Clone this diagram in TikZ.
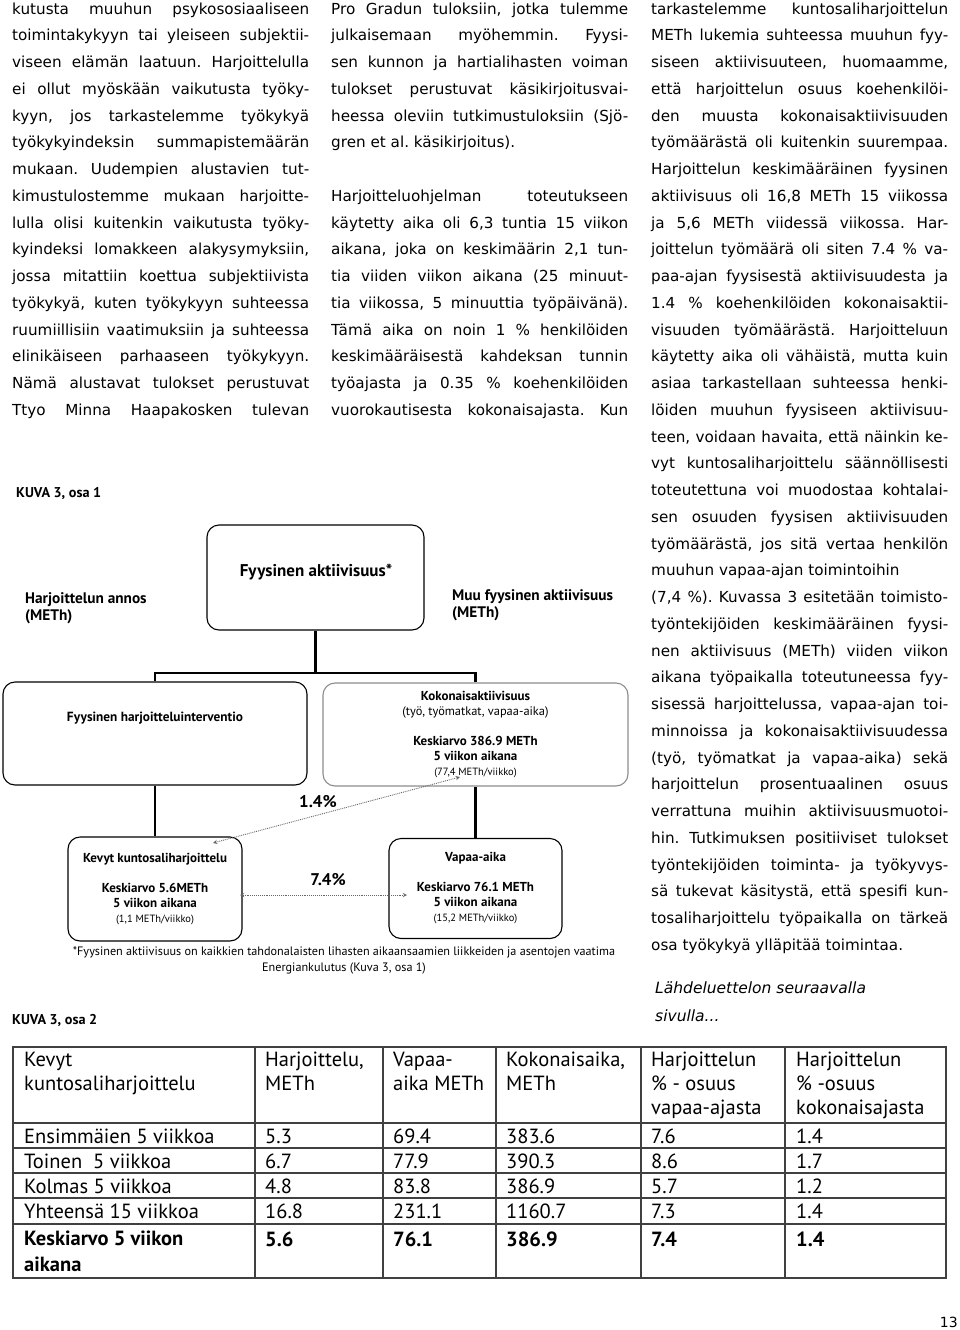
\documentclass[tikz,border=0pt]{standalone}
\usepackage{fontspec}
\setmainfont{DejaVu Sans}
\newfontfamily\figfont{PT Sans}
\usetikzlibrary{calc}

\newlength\colw
\setlength\colw{297pt}
\newcommand\bodyfont{\fontsize{15.2}{26.75}\selectfont\frenchspacing}
% justified line / last line of a paragraph
\newcommand\jl[1]{\hbox to\colw{\spaceskip=0pt\xspaceskip=0pt\strut#1}}
\newcommand\lastl[1]{\hbox to\colw{\spaceskip=0pt\xspaceskip=0pt\strut#1\hfil}}

\begin{document}
\begin{tikzpicture}[x=1pt,y=-1pt,
    txtcol/.style={anchor=north west,inner sep=0pt,text width=\colw,font=\bodyfont},
    roundbox/.style={draw,rounded corners=12pt,line width=1.1pt,inner sep=0pt,align=center,
        font=\figfont\fontsize{12.4}{15}\selectfont},
    figlabel/.style={inner sep=0pt,align=left,font=\figfont\bfseries\fontsize{15.3}{17}\selectfont},
    treeline/.style={line width=2.4pt},
    pctline/.style={densely dotted,line width=0.9pt,black!60,<->,>=stealth},
    cell/.style={anchor=base west,inner sep=0pt,align=left,font=\figfont\fontsize{20.5}{24}\selectfont},
    gridline/.style={line width=1.1pt,black!75}]

\useasboundingbox (0,0) rectangle (960,1330);

% text columns
\node[txtcol] (col1) at (12,-4.7) {%
\jl{kutusta muuhun psykososiaaliseen}
\jl{toimintakykyyn tai yleiseen subjektii-}
\jl{viseen elämän laatuun. Harjoittelulla}
\jl{ei ollut myöskään vaikutusta työky-}
\jl{kyyn, jos tarkastelemme työkykyä}
\jl{työkykyindeksin summapistemäärän}
\jl{mukaan. Uudempien alustavien tut-}
\jl{kimustulostemme mukaan harjoitte-}
\jl{lulla olisi kuitenkin vaikutusta työky-}
\jl{kyindeksi lomakkeen alakysymyksiin,}
\jl{jossa mitattiin koettua subjektiivista}
\jl{työkykyä, kuten työkykyyn suhteessa}
\jl{ruumiillisiin vaatimuksiin ja suhteessa}
\jl{elinikäiseen parhaaseen työkykyyn.}
\jl{Nämä alustavat tulokset perustuvat}
\jl{Ttyo Minna Haapakosken tulevan}};

\node[txtcol] (col2) at (331,-4.7) {%
\jl{Pro Gradun tuloksiin, jotka tulemme}
\jl{julkaisemaan myöhemmin. Fyysi-}
\jl{sen kunnon ja hartialihasten voiman}
\jl{tulokset perustuvat käsikirjoitusvai-}
\jl{heessa oleviin tutkimustuloksiin (Sjö-}
\lastl{gren et al. käsikirjoitus).}
\lastl{}
\jl{Harjoitteluohjelman toteutukseen}
\jl{käytetty aika oli 6,3 tuntia 15 viikon}
\jl{aikana, joka on keskimäärin 2,1 tun-}
\jl{tia viiden viikon aikana (25 minuut-}
\jl{tia viikossa, 5 minuuttia työpäivänä).}
\jl{Tämä aika on noin 1 \% henkilöiden}
\jl{keskimääräisestä kahdeksan tunnin}
\jl{työajasta ja 0.35 \% koehenkilöiden}
\jl{vuorokautisesta kokonaisajasta. Kun}};

\node[txtcol] (col3) at (651,-4.7) {%
\jl{tarkastelemme kuntosaliharjoittelun}
\jl{METh lukemia suhteessa muuhun fyy-}
\jl{siseen aktiivisuuteen, huomaamme,}
\jl{että harjoittelun osuus koehenkilöi-}
\jl{den muusta kokonaisaktiivisuuden}
\jl{työmäärästä oli kuitenkin suurempaa.}
\jl{Harjoittelun keskimääräinen fyysinen}
\jl{aktiivisuus oli 16,8 METh 15 viikossa}
\jl{ja 5,6 METh viidessä viikossa. Har-}
\jl{joittelun työmäärä oli siten 7.4 \% va-}
\jl{paa-ajan fyysisestä aktiivisuudesta ja}
\jl{1.4 \% koehenkilöiden kokonaisaktii-}
\jl{visuuden työmäärästä. Harjoitteluun}
\jl{käytetty aika oli vähäistä, mutta kuin}
\jl{asiaa tarkastellaan suhteessa henki-}
\jl{löiden muuhun fyysiseen aktiivisuu-}
\jl{teen, voidaan havaita, että näinkin ke-}
\jl{vyt kuntosaliharjoittelu säännöllisesti}
\jl{toteutettuna voi muodostaa kohtalai-}
\jl{sen osuuden fyysisen aktiivisuuden}
\jl{työmäärästä, jos sitä vertaa henkilön}
\lastl{muuhun vapaa-ajan toimintoihin}
\jl{(7,4 \%). Kuvassa 3 esitetään toimisto-}
\jl{työntekijöiden keskimääräinen fyysi-}
\jl{nen aktiivisuus (METh) viiden viikon}
\jl{aikana työpaikalla toteutuneessa fyy-}
\jl{sisessä harjoittelussa, vapaa-ajan toi-}
\jl{minnoissa ja kokonaisaktiivisuudessa}
\jl{(työ, työmatkat ja vapaa-aika) sekä}
\jl{harjoittelun prosentuaalinen osuus}
\jl{verrattuna muihin aktiivisuusmuotoi-}
\jl{hin. Tutkimuksen positiiviset tulokset}
\jl{työntekijöiden toiminta- ja työkyvys-}
\jl{sä tukevat käsitystä, että spesifi kun-}
\jl{tosaliharjoittelu työpaikalla on tärkeä}
\lastl{osa työkykyä ylläpitää toimintaa.}};

\node[anchor=west,inner sep=0pt,align=left,font=\fontsize{15.5}{28}\selectfont\itshape] (lahde) at (655,1002)
    {Lähdeluettelon seuraavalla\\sivulla...};
\node[anchor=east,inner sep=0pt,font=\fontsize{14}{16}\selectfont] (sivu) at (958,1322) {13};

% KUVA 3, osa 1
\node[figlabel,anchor=west,font=\figfont\bfseries\fontsize{14.2}{16}\selectfont] (kuva1) at (16,493) {KUVA 3, osa 1};
\node[figlabel,anchor=west] (annos) at (25,608.5) {Harjoittelun annos\\(METh)};
\node[figlabel,anchor=west] (muu) at (452,605.5) {Muu fyysinen aktiivisuus\\(METh)};

\node[roundbox,minimum width=217pt,minimum height=105pt] (akt) at (315.5,577.5) {};
\node[inner sep=0pt,font=\figfont\bfseries\fontsize{17}{19}\selectfont] (aktT) at (316,572) {Fyysinen aktiivisuus*};

\node[roundbox,minimum width=304pt,minimum height=103pt] (interv) at (155,733.5) {};
\node[inner sep=0pt,font=\figfont\bfseries\fontsize{13.3}{15}\selectfont] (intervT) at (155,718)
    {Fyysinen harjoitteluinterventio};

\node[roundbox,draw=black!45,minimum width=305pt,minimum height=103pt] (koko) at (475.5,734.5)
    {\textbf{\fontsize{13}{15}\selectfont Kokonaisaktiivisuus}\\(työ, työmatkat, vapaa-aika)\\[15pt]
     \textbf{\fontsize{13}{15}\selectfont Keskiarvo 386.9 METh}\\\textbf{\fontsize{13}{15}\selectfont 5 viikon aikana}\\
     {\fontsize{10.5}{15}\selectfont(77,4 METh/viikko)}};

\node[roundbox,minimum width=173pt,minimum height=100pt] (vapaa) at (475.5,888.5)
    {\textbf{\fontsize{13}{15}\selectfont Vapaa-aika}\\[15pt]
     \textbf{\fontsize{13}{15}\selectfont Keskiarvo 76.1 METh}\\\textbf{\fontsize{13}{15}\selectfont 5 viikon aikana}\\
     {\fontsize{10.5}{15}\selectfont(15,2 METh/viikko)}};

\node[roundbox,minimum width=174pt,minimum height=104pt] (kevyt) at (155,889)
    {\textbf{\fontsize{13}{15}\selectfont Kevyt kuntosaliharjoittelu}\\[15pt]
     \textbf{\fontsize{13}{15}\selectfont Keskiarvo 5.6METh}\\\textbf{\fontsize{13}{15}\selectfont 5 viikon aikana}\\
     {\fontsize{10.5}{15}\selectfont(1,1 METh/viikko)}};

\coordinate (fork) at (315.5,673);
\draw[treeline] (akt.south) -- (fork);
\draw[treeline] (interv.north) |- (fork) -| (koko.north);
\draw[treeline] (interv.south) -- (kevyt.north);
\draw[treeline] (koko.south) -- (vapaa.north);

% osuudet
\coordinate (kokoP) at (460,777);
\coordinate (kevytP) at (213,843);
\coordinate (vapaaP) at (407,895);
\coordinate (kevytQ) at (240,895);
\draw[pctline] (kevytP) -- (kokoP);
\draw[pctline] (kevytQ) -- (vapaaP);
\node[inner sep=0pt,font=\figfont\bfseries\fontsize{16.9}{18}\selectfont] (p14) at (318,802) {1.4\%};
\node[inner sep=0pt,font=\figfont\bfseries\fontsize{16.9}{18}\selectfont] (p74) at (328,880) {7.4\%};

\node[inner sep=0pt,align=center,font=\figfont\fontsize{12.2}{16}\selectfont] (alaviite) at (344,960)
    {*Fyysinen aktiivisuus on kaikkien tahdonalaisten lihasten aikaansaamien liikkeiden ja asentojen vaatima\\
     Energiankulutus (Kuva 3, osa 1)};

% KUVA 3, osa 2
\node[figlabel,anchor=west,font=\figfont\bfseries\fontsize{14.2}{16}\selectfont] (kuva2) at (12,1020) {KUVA 3, osa 2};

\draw[gridline] (13,1047) rectangle (946,1278);
\draw[gridline] (255,1047) -- (255,1278);
\draw[gridline] (383,1047) -- (383,1278);
\draw[gridline] (496,1047) -- (496,1278);
\draw[gridline] (641,1047) -- (641,1278);
\draw[gridline] (785,1047) -- (785,1278);
\draw[gridline] (13,1123) -- (946,1123);
\draw[gridline] (13,1148) -- (946,1148);
\draw[gridline] (13,1173) -- (946,1173);
\draw[gridline] (13,1198) -- (946,1198);
\draw[gridline] (13,1224) -- (946,1224);

\node[cell,anchor=north west] (h1) at (24,1052) {Kevyt\\kuntosaliharjoittelu};
\node[cell,anchor=north west] (h2) at (265,1052) {Harjoittelu,\\METh};
\node[cell,anchor=north west] (h3) at (393,1052) {Vapaa-\\aika METh};
\node[cell,anchor=north west] (h4) at (506,1052) {Kokonaisaika,\\METh};
\node[cell,anchor=north west] (h5) at (651,1052) {Harjoittelun\\\% - osuus\\vapaa-ajasta};
\node[cell,anchor=north west] (h6) at (796,1052) {Harjoittelun\\\% -osuus\\kokonaisajasta};

\node[cell] (a1) at (24,1143) {Ensimmäien 5 viikkoa};
\node[cell] (a2) at (265,1143) {5.3};
\node[cell] (a3) at (393,1143) {69.4};
\node[cell] (a4) at (506,1143) {383.6};
\node[cell] (a5) at (651,1143) {7.6};
\node[cell] (a6) at (796,1143) {1.4};

\node[cell] (b1) at (24,1168) {Toinen\ \ 5 viikkoa};
\node[cell] (b2) at (265,1168) {6.7};
\node[cell] (b3) at (393,1168) {77.9};
\node[cell] (b4) at (506,1168) {390.3};
\node[cell] (b5) at (651,1168) {8.6};
\node[cell] (b6) at (796,1168) {1.7};

\node[cell] (c1) at (24,1193) {Kolmas 5 viikkoa};
\node[cell] (c2) at (265,1193) {4.8};
\node[cell] (c3) at (393,1193) {83.8};
\node[cell] (c4) at (506,1193) {386.9};
\node[cell] (c5) at (651,1193) {5.7};
\node[cell] (c6) at (796,1193) {1.2};

\node[cell] (d1) at (24,1218) {Yhteensä 15 viikkoa};
\node[cell] (d2) at (265,1218) {16.8};
\node[cell] (d3) at (393,1218) {231.1};
\node[cell] (d4) at (506,1218) {1160.7};
\node[cell] (d5) at (651,1218) {7.3};
\node[cell] (d6) at (796,1218) {1.4};

\node[cell,anchor=north west,font=\figfont\bfseries\fontsize{20.5}{26}\selectfont] (m1) at (24,1231) {Keskiarvo 5 viikon\\aikana};
\node[cell,font=\figfont\bfseries\fontsize{20.5}{24}\selectfont] (m2) at (265,1246) {5.6};
\node[cell,font=\figfont\bfseries\fontsize{20.5}{24}\selectfont] (m3) at (393,1246) {76.1};
\node[cell,font=\figfont\bfseries\fontsize{20.5}{24}\selectfont] (m4) at (506,1246) {386.9};
\node[cell,font=\figfont\bfseries\fontsize{20.5}{24}\selectfont] (m5) at (651,1246) {7.4};
\node[cell,font=\figfont\bfseries\fontsize{20.5}{24}\selectfont] (m6) at (796,1246) {1.4};

\end{tikzpicture}
\end{document}
